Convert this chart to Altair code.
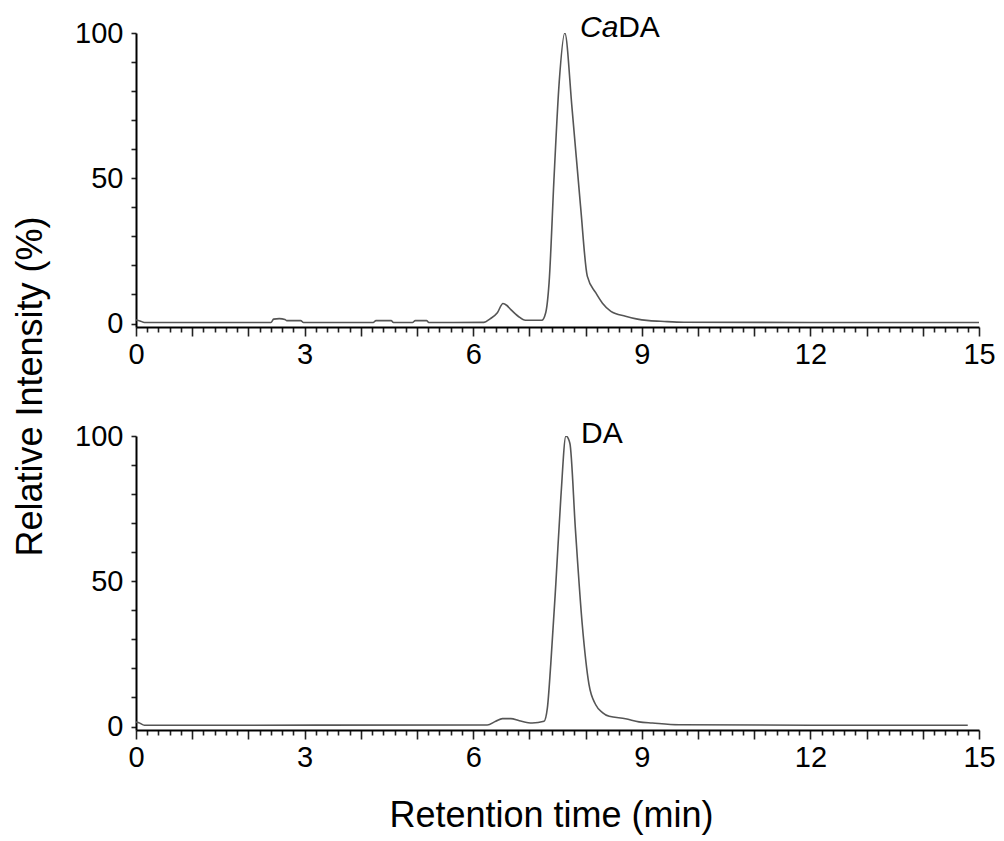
import altair as alt
import pandas as pd

# ---- data ----
cada_time = [0.0, 0.07, 0.15, 2.40, 2.45, 2.55, 2.65, 2.68, 2.93, 2.98, 4.22, 4.27,
             4.54, 4.58, 4.92, 4.97, 5.17, 5.21, 6.19, 6.30, 6.43, 6.53, 6.60, 6.67,
             6.80, 6.93, 7.22, 7.29, 7.35, 7.44, 7.53, 7.63, 7.76, 7.91, 8.03, 8.18,
             8.30, 8.45, 8.71, 8.90, 9.13, 9.40, 9.75, 12.0, 15.0]
cada_intensity = [1.2, 0.9, 0.35, 0.35, 1.5, 1.7, 1.4, 1.0, 1.0, 0.35, 0.35, 1.0,
                  1.0, 0.35, 0.35, 1.0, 1.0, 0.35, 0.4, 1.6, 3.7, 6.9, 6.2, 4.8,
                  2.5, 1.1, 1.1, 3.7, 14.0, 50.8, 83.0, 100.0, 73.8, 40.4, 16.3, 10.6,
                  7.0, 4.2, 2.5, 1.6, 1.0, 0.7, 0.45, 0.35, 0.35]

da_time = [0.0, 0.05, 0.15, 6.25, 6.40, 6.52, 6.67, 6.82, 7.05, 7.26, 7.32, 7.38,
           7.47, 7.56, 7.65, 7.72, 7.82, 7.94, 8.06, 8.18, 8.30, 8.42, 8.71, 8.95,
           9.19, 9.66, 12.0, 14.8]
da_intensity = [1.5, 1.3, 0.45, 0.5, 1.8, 2.7, 2.7, 2.0, 1.2, 1.8, 6.4, 21.4,
                49.0, 79.0, 100.0, 97.5, 67.5, 35.2, 14.5, 7.5, 4.8, 3.5, 2.7, 1.6,
                1.2, 0.6, 0.45, 0.45]

# peak annotations: (panel, text part, italic?, x, y)
ann_panel = ["CaDA", "CaDA", "DA"]
ann_text = ["Ca", "DA", "DA"]
ann_style = ["italic", "normal", "normal"]
ann_x = [7.90, 8.58, 7.92]
ann_y = [98.6, 98.6, 97.5]

x_tick_values = [round(i * 0.2, 1) for i in range(76)]
y_tick_values = list(range(0, 101, 10))

FONT = "Liberation Sans"
W, H = 843, 294

x_scale = alt.Scale(domain=[0, 15], nice=False, zero=False)
y_scale = alt.Scale(domain=[-1.2, 100], nice=False, zero=False)

tick_size = {"condition": {"test": "abs(datum.value - round(datum.value)) < 0.001", "value": 9}, "value": 5}


def x_axis(with_title):
    kw = dict(
        values=x_tick_values,
        tickCount=200,
        labelExpr="abs(datum.value % 3) < 0.001 || abs(datum.value % 3 - 3) < 0.001 ? toString(round(datum.value)) : ''",
        labelOverlap=False,
        labelFlush=False,
        tickSize=tick_size,
        labelPadding=4,
        grid=False,
    )
    if with_title:
        kw.update(title="Retention time (min)", titleX=415, titleY=96,
                  titleAlign="center", titleBaseline="alphabetic")
    else:
        kw.update(title=None)
    return alt.Axis(**kw)


def y_axis(with_title):
    kw = dict(
        values=y_tick_values,
        tickCount=50,
        labelExpr="datum.value % 50 === 0 ? datum.label : ''",
        labelOverlap=False,
        tickSize=5,
        labelPadding=8,
        grid=False,
    )
    if with_title:
        kw.update(title="Relative Intensity (%)", titleX=-95, titleY=353,
                  titleAngle=270, titleAlign="center", titleBaseline="alphabetic")
    else:
        kw.update(title=None)
    return alt.Axis(**kw)


def panel(times, vals, name, with_xtitle, with_ytitle):
    df = pd.DataFrame({"t": times, "v": vals})
    line = alt.Chart(df).mark_line(color="#555555", strokeWidth=1.6, interpolate="monotone", clip=True).encode(
        x=alt.X("t:Q", scale=x_scale, axis=x_axis(with_xtitle)),
        y=alt.Y("v:Q", scale=y_scale, axis=y_axis(with_ytitle)),
    )
    adf = pd.DataFrame({"panel": ann_panel, "text": ann_text, "style": ann_style, "x": ann_x, "y": ann_y})
    adf = adf[adf["panel"] == name]
    texts = []
    for style in ["italic", "normal"]:
        sub = adf[adf["style"] == style]
        if len(sub) == 0:
            continue
        texts.append(
            alt.Chart(sub).mark_text(font=FONT, fontSize=30, fontStyle=style, align="left",
                                     baseline="alphabetic", color="black").encode(
                x=alt.X("x:Q", scale=x_scale),
                y=alt.Y("y:Q", scale=y_scale),
                text="text:N",
            )
        )
    return alt.layer(line, *texts).properties(width=W, height=H)


top = panel(cada_time, cada_intensity, "CaDA", False, True)
bottom = panel(da_time, da_intensity, "DA", True, False)

chart = alt.vconcat(top, bottom, spacing=109, bounds="flush").configure_view(
    stroke=None
).configure_axis(
    labelFont=FONT, labelFontSize=29, labelColor="black",
    titleFont=FONT, titleFontSize=36, titleFontWeight="normal", titleColor="black",
    domainColor="black", domainWidth=2, tickColor="#222222", tickWidth=1.6,
).properties(
    background="white",
    padding={"left": 4, "right": 0, "top": 5, "bottom": 5},
)

chart.save("out.html", embed_options={"renderer": "svg", "actions": False})
